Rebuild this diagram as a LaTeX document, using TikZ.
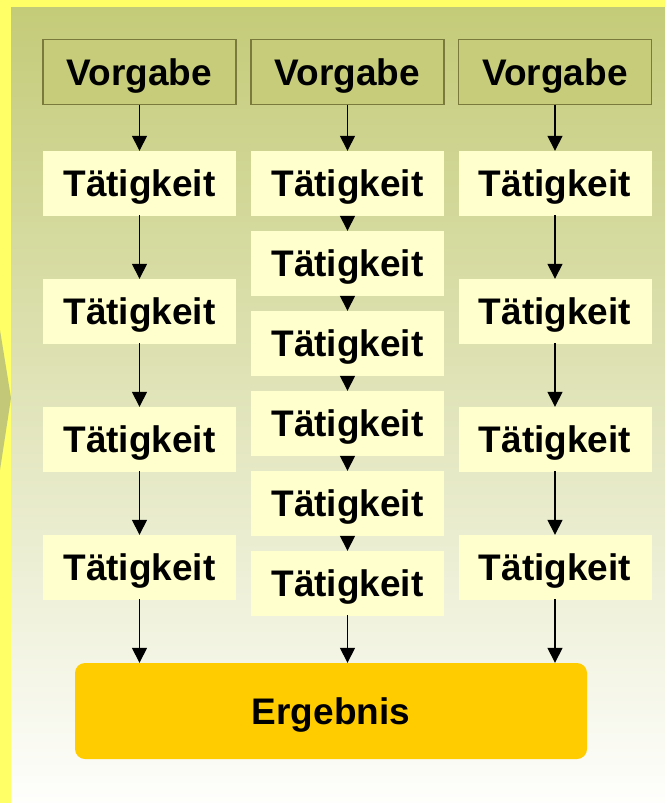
\documentclass[tikz,border=0pt]{standalone}
\usepackage{fontspec}
\setmainfont{Liberation Sans}
\usetikzlibrary{arrows.meta}
\definecolor{stripe}{RGB}{255,255,102}
\definecolor{olivetop}{RGB}{196,203,120}
\definecolor{olivemid}{RGB}{214,220,166}
\definecolor{bgbottom}{RGB}{254,254,252}
\definecolor{chev}{RGB}{195,200,120}
\definecolor{taetfill}{RGB}{255,255,206}
\definecolor{vorgfill}{RGB}{198,204,122}
\definecolor{vorgline}{RGB}{122,122,60}
\definecolor{ergfill}{RGB}{255,204,0}
\tikzset{
  boxtext/.style={font=\fontsize{37}{40}\selectfont\bfseries, text=black, inner sep=0pt,
    text depth=0pt, minimum width=193pt, minimum height=65pt},
  vorg/.style={boxtext, fill=vorgfill, draw=vorgline, line width=1.5pt},
  taet/.style={boxtext, fill=taetfill},
  erg/.style={boxtext, fill=ergfill, rounded corners=10pt, minimum width=512pt, minimum height=96pt},
  flow/.style={line width=1.5pt, -{Triangle[width=15pt,length=15pt]}, shorten <=-0.75pt}
}
\begin{document}
\begin{tikzpicture}[x=1pt,y=-1pt]
\useasboundingbox (0,0) rectangle (665,803);
% background
\fill[stripe] (0,0) rectangle (665,803);
\shade[top color=olivetop, middle color=olivemid, bottom color=bgbottom] (11,7) rectangle (665,803);
\fill[chev] (0,330) -- (11,398) -- (0,470) -- cycle;
% column 1
\node[vorg] (v1) at (139.5,72) {Vorgabe};
\node[taet] (a1) at (139.5,183.5) {Tätigkeit};
\node[taet] (a2) at (139.5,311.5) {Tätigkeit};
\node[taet] (a3) at (139.5,439.5) {Tätigkeit};
\node[taet] (a4) at (139.5,567.5) {Tätigkeit};
% column 2
\node[vorg] (v2) at (347.5,72) {Vorgabe};
\node[taet] (b1) at (347.5,183.5) {Tätigkeit};
\node[taet] (b2) at (347.5,263.5) {Tätigkeit};
\node[taet] (b3) at (347.5,343.5) {Tätigkeit};
\node[taet] (b4) at (347.5,423.5) {Tätigkeit};
\node[taet] (b5) at (347.5,503.5) {Tätigkeit};
\node[taet] (b6) at (347.5,583.5) {Tätigkeit};
% column 3
\node[vorg] (v3) at (555,72) {Vorgabe};
\node[taet] (c1) at (555,183.5) {Tätigkeit};
\node[taet] (c2) at (555,311.5) {Tätigkeit};
\node[taet] (c3) at (555,439.5) {Tätigkeit};
\node[taet] (c4) at (555,567.5) {Tätigkeit};
% result
\node[erg] (e) at (331,711) {Ergebnis};
% connectors
\draw[flow] (v1) -- (a1);
\draw[flow] (a1) -- (a2);
\draw[flow] (a2) -- (a3);
\draw[flow] (a3) -- (a4);
\draw[flow] (a4) -- (a4 |- e.north);
\draw[flow] (v2) -- (b1);
\draw[flow] (b1) -- (b2);
\draw[flow] (b2) -- (b3);
\draw[flow] (b3) -- (b4);
\draw[flow] (b4) -- (b5);
\draw[flow] (b5) -- (b6);
\draw[flow] (b6) -- (b6 |- e.north);
\draw[flow] (v3) -- (c1);
\draw[flow] (c1) -- (c2);
\draw[flow] (c2) -- (c3);
\draw[flow] (c3) -- (c4);
\draw[flow] (c4) -- (c4 |- e.north);
\end{tikzpicture}
\end{document}
